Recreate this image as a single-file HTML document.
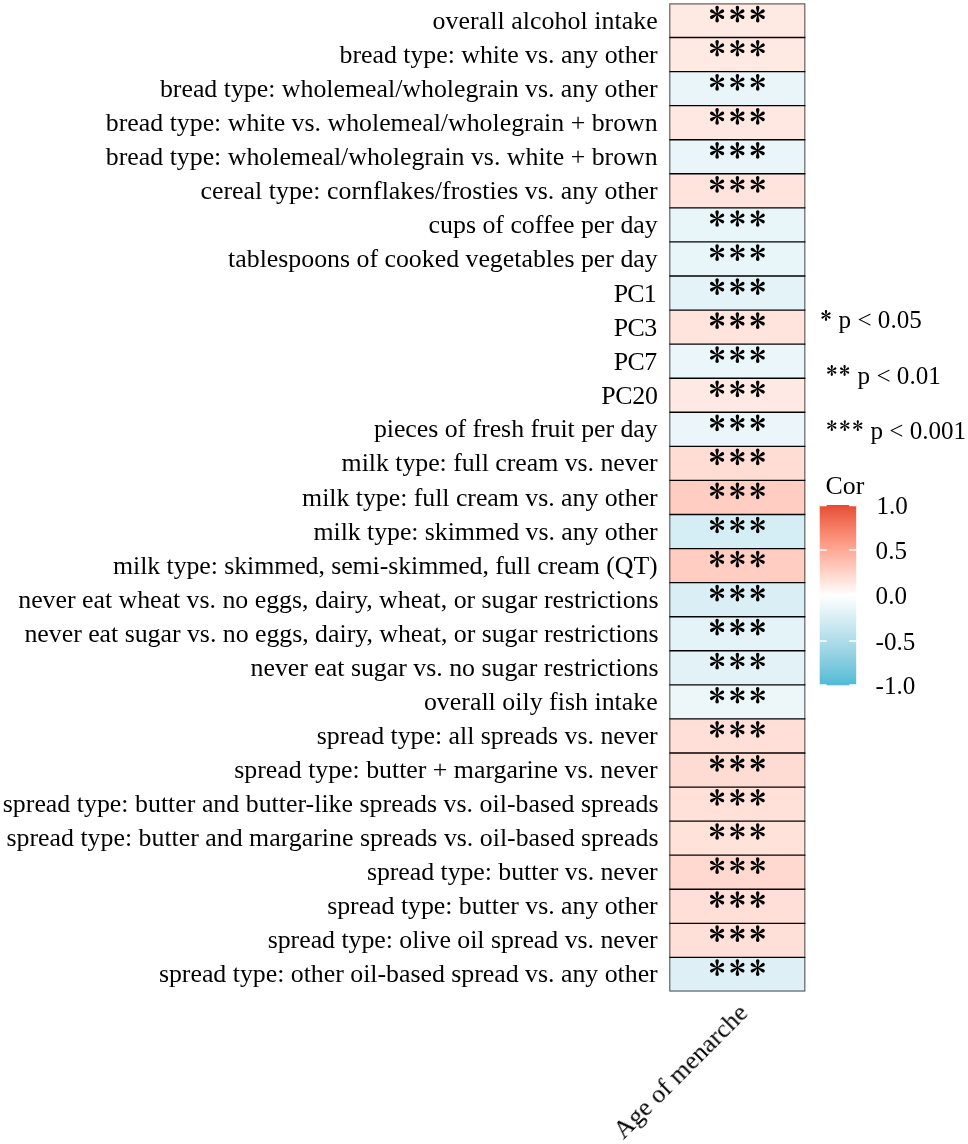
<!DOCTYPE html>
<html><head><meta charset="utf-8"><title>heatmap</title>
<style>
html,body{margin:0;padding:0;background:#fff;overflow:hidden;}
svg{display:block;}
text{font-family:"Liberation Serif",serif;fill:#000;}
.lab{font-size:25.85px;text-anchor:end;}
.st{font-size:40.5px;text-anchor:middle;}
.lg{font-size:25.1px;}
.ti{font-size:25.8px;}
</style></head><body>
<svg width="968" height="1144" viewBox="0 0 968 1144">
<rect width="968" height="1144" fill="#fff"/>
<g style="opacity:0.9999">
<defs><path id="pt" d="M-0.5,0.3 C-0.55,-2.6 -1.75,-5.0 -1.75,-6.6 A1.75,1.75 0 0 1 1.75,-6.6 C1.75,-5.0 0.55,-2.6 0.5,0.3Z"/>
<g id="ast"><use href="#pt"/><use href="#pt" transform="rotate(60) scale(0.95)"/><use href="#pt" transform="rotate(120) scale(0.95)"/><use href="#pt" transform="rotate(180)"/><use href="#pt" transform="rotate(240) scale(0.95)"/><use href="#pt" transform="rotate(300) scale(0.95)"/></g></defs>

<rect x="669.80" y="3.44" width="135.20" height="34.07" fill="#ffe9e3"/>
<rect x="669.80" y="37.51" width="135.20" height="34.07" fill="#ffe9e3"/>
<rect x="669.80" y="71.58" width="135.20" height="34.07" fill="#e9f5f9"/>
<rect x="669.80" y="105.65" width="135.20" height="34.07" fill="#ffe8e2"/>
<rect x="669.80" y="139.72" width="135.20" height="34.07" fill="#e9f5f9"/>
<rect x="669.80" y="173.79" width="135.20" height="34.07" fill="#ffe4dd"/>
<rect x="669.80" y="207.86" width="135.20" height="34.07" fill="#e8f5f9"/>
<rect x="669.80" y="241.93" width="135.20" height="34.07" fill="#e8f5f9"/>
<rect x="669.80" y="276.00" width="135.20" height="34.07" fill="#e3f3f7"/>
<rect x="669.80" y="310.07" width="135.20" height="34.07" fill="#ffe4dd"/>
<rect x="669.80" y="344.14" width="135.20" height="34.07" fill="#eaf6f9"/>
<rect x="669.80" y="378.21" width="135.20" height="34.07" fill="#ffe9e4"/>
<rect x="669.80" y="412.28" width="135.20" height="34.07" fill="#ecf6fa"/>
<rect x="669.80" y="446.35" width="135.20" height="34.07" fill="#ffddd5"/>
<rect x="669.80" y="480.42" width="135.20" height="34.07" fill="#ffcdc1"/>
<rect x="669.80" y="514.49" width="135.20" height="34.07" fill="#d5edf4"/>
<rect x="669.80" y="548.56" width="135.20" height="34.07" fill="#ffcdc1"/>
<rect x="669.80" y="582.63" width="135.20" height="34.07" fill="#d9eef5"/>
<rect x="669.80" y="616.70" width="135.20" height="34.07" fill="#e3f3f7"/>
<rect x="669.80" y="650.77" width="135.20" height="34.07" fill="#e2f2f7"/>
<rect x="669.80" y="684.84" width="135.20" height="34.07" fill="#edf7fa"/>
<rect x="669.80" y="718.91" width="135.20" height="34.07" fill="#ffdfd7"/>
<rect x="669.80" y="752.98" width="135.20" height="34.07" fill="#ffdcd3"/>
<rect x="669.80" y="787.05" width="135.20" height="34.07" fill="#ffe1d9"/>
<rect x="669.80" y="821.12" width="135.20" height="34.07" fill="#ffe2da"/>
<rect x="669.80" y="855.19" width="135.20" height="34.07" fill="#ffd9cf"/>
<rect x="669.80" y="889.26" width="135.20" height="34.07" fill="#ffdfd7"/>
<rect x="669.80" y="923.33" width="135.20" height="34.07" fill="#ffe0d8"/>
<rect x="669.80" y="957.40" width="135.20" height="34.07" fill="#def0f6"/>
<path d="M669.40 37.51H805.40" stroke="#000" stroke-width="1.35"/>
<path d="M669.40 71.58H805.40" stroke="#000" stroke-width="1.35"/>
<path d="M669.40 105.65H805.40" stroke="#000" stroke-width="1.35"/>
<path d="M669.40 139.72H805.40" stroke="#000" stroke-width="1.35"/>
<path d="M669.40 173.79H805.40" stroke="#000" stroke-width="1.35"/>
<path d="M669.40 207.86H805.40" stroke="#000" stroke-width="1.35"/>
<path d="M669.40 241.93H805.40" stroke="#000" stroke-width="1.35"/>
<path d="M669.40 276.00H805.40" stroke="#000" stroke-width="1.35"/>
<path d="M669.40 310.07H805.40" stroke="#000" stroke-width="1.35"/>
<path d="M669.40 344.14H805.40" stroke="#000" stroke-width="1.35"/>
<path d="M669.40 378.21H805.40" stroke="#000" stroke-width="1.35"/>
<path d="M669.40 412.28H805.40" stroke="#000" stroke-width="1.35"/>
<path d="M669.40 446.35H805.40" stroke="#000" stroke-width="1.35"/>
<path d="M669.40 480.42H805.40" stroke="#000" stroke-width="1.35"/>
<path d="M669.40 514.49H805.40" stroke="#000" stroke-width="1.35"/>
<path d="M669.40 548.56H805.40" stroke="#000" stroke-width="1.35"/>
<path d="M669.40 582.63H805.40" stroke="#000" stroke-width="1.35"/>
<path d="M669.40 616.70H805.40" stroke="#000" stroke-width="1.35"/>
<path d="M669.40 650.77H805.40" stroke="#000" stroke-width="1.35"/>
<path d="M669.40 684.84H805.40" stroke="#000" stroke-width="1.35"/>
<path d="M669.40 718.91H805.40" stroke="#000" stroke-width="1.35"/>
<path d="M669.40 752.98H805.40" stroke="#000" stroke-width="1.35"/>
<path d="M669.40 787.05H805.40" stroke="#000" stroke-width="1.35"/>
<path d="M669.40 821.12H805.40" stroke="#000" stroke-width="1.35"/>
<path d="M669.40 855.19H805.40" stroke="#000" stroke-width="1.35"/>
<path d="M669.40 889.26H805.40" stroke="#000" stroke-width="1.35"/>
<path d="M669.40 923.33H805.40" stroke="#000" stroke-width="1.35"/>
<path d="M669.40 957.40H805.40" stroke="#000" stroke-width="1.35"/>
<rect x="669.80" y="3.89" width="135.05" height="987.13" fill="none" stroke="#000" stroke-opacity="0.66" stroke-width="1.1"/>
<text class="lab" x="657.70" y="28.77" textLength="225.1">overall alcohol intake</text>
<use href="#ast" x="717.1" y="14.17"/>
<use href="#ast" x="737.4" y="14.17"/>
<use href="#ast" x="757.7" y="14.17"/>
<text class="lab" x="657.70" y="62.82" textLength="318.2">bread type: white vs. any other</text>
<use href="#ast" x="717.1" y="48.23"/>
<use href="#ast" x="737.4" y="48.23"/>
<use href="#ast" x="757.7" y="48.23"/>
<text class="lab" x="657.70" y="96.87" textLength="497.8">bread type: wholemeal/wholegrain vs. any other</text>
<use href="#ast" x="717.1" y="82.28"/>
<use href="#ast" x="737.4" y="82.28"/>
<use href="#ast" x="757.7" y="82.28"/>
<text class="lab" x="657.70" y="130.93" textLength="551.9">bread type: white vs. wholemeal/wholegrain + brown</text>
<use href="#ast" x="717.1" y="116.33"/>
<use href="#ast" x="737.4" y="116.33"/>
<use href="#ast" x="757.7" y="116.33"/>
<text class="lab" x="657.70" y="164.98" textLength="551.9">bread type: wholemeal/wholegrain vs. white + brown</text>
<use href="#ast" x="717.1" y="150.39"/>
<use href="#ast" x="737.4" y="150.39"/>
<use href="#ast" x="757.7" y="150.39"/>
<text class="lab" x="657.70" y="199.03" textLength="457.2">cereal type: cornflakes/frosties vs. any other</text>
<use href="#ast" x="717.1" y="184.44"/>
<use href="#ast" x="737.4" y="184.44"/>
<use href="#ast" x="757.7" y="184.44"/>
<text class="lab" x="657.70" y="233.08" textLength="229.1">cups of coffee per day</text>
<use href="#ast" x="717.1" y="218.50"/>
<use href="#ast" x="737.4" y="218.50"/>
<use href="#ast" x="757.7" y="218.50"/>
<text class="lab" x="657.70" y="267.13" textLength="429.6">tablespoons of cooked vegetables per day</text>
<use href="#ast" x="717.1" y="252.55"/>
<use href="#ast" x="737.4" y="252.55"/>
<use href="#ast" x="757.7" y="252.55"/>
<text class="lab" x="655.75" y="301.99" style="letter-spacing:-0.85px">PC1</text>
<use href="#ast" x="717.1" y="286.61"/>
<use href="#ast" x="737.4" y="286.61"/>
<use href="#ast" x="757.7" y="286.61"/>
<text class="lab" x="656.54" y="336.04" style="letter-spacing:-0.56px">PC3</text>
<use href="#ast" x="717.1" y="320.67"/>
<use href="#ast" x="737.4" y="320.67"/>
<use href="#ast" x="757.7" y="320.67"/>
<text class="lab" x="656.54" y="370.09" style="letter-spacing:-0.56px">PC7</text>
<use href="#ast" x="717.1" y="354.72"/>
<use href="#ast" x="737.4" y="354.72"/>
<use href="#ast" x="757.7" y="354.72"/>
<text class="lab" x="657.63" y="404.14" style="letter-spacing:-0.25px">PC20</text>
<use href="#ast" x="717.1" y="388.78"/>
<use href="#ast" x="737.4" y="388.78"/>
<use href="#ast" x="757.7" y="388.78"/>
<text class="lab" x="657.70" y="437.39" textLength="283.8">pieces of fresh fruit per day</text>
<use href="#ast" x="717.1" y="422.83"/>
<use href="#ast" x="737.4" y="422.83"/>
<use href="#ast" x="757.7" y="422.83"/>
<text class="lab" x="657.70" y="471.45" textLength="316.1">milk type: full cream vs. never</text>
<use href="#ast" x="717.1" y="456.88"/>
<use href="#ast" x="737.4" y="456.88"/>
<use href="#ast" x="757.7" y="456.88"/>
<text class="lab" x="657.70" y="505.50" textLength="355.6">milk type: full cream vs. any other</text>
<use href="#ast" x="717.1" y="490.94"/>
<use href="#ast" x="737.4" y="490.94"/>
<use href="#ast" x="757.7" y="490.94"/>
<text class="lab" x="657.70" y="539.55" textLength="344.2">milk type: skimmed vs. any other</text>
<use href="#ast" x="717.1" y="525.00"/>
<use href="#ast" x="737.4" y="525.00"/>
<use href="#ast" x="757.7" y="525.00"/>
<text class="lab" x="657.70" y="574.30" textLength="544.6">milk type: skimmed, semi-skimmed, full cream (QT)</text>
<use href="#ast" x="717.1" y="559.05"/>
<use href="#ast" x="737.4" y="559.05"/>
<use href="#ast" x="757.7" y="559.05"/>
<text class="lab" x="658.55" y="607.65" textLength="640.3">never eat wheat vs. no eggs, dairy, wheat, or sugar restrictions</text>
<use href="#ast" x="717.1" y="593.10"/>
<use href="#ast" x="737.4" y="593.10"/>
<use href="#ast" x="757.7" y="593.10"/>
<text class="lab" x="658.55" y="641.71" textLength="634.1">never eat sugar vs. no eggs, dairy, wheat, or sugar restrictions</text>
<use href="#ast" x="717.1" y="627.16"/>
<use href="#ast" x="737.4" y="627.16"/>
<use href="#ast" x="757.7" y="627.16"/>
<text class="lab" x="658.55" y="675.76" textLength="408.0">never eat sugar vs. no sugar restrictions</text>
<use href="#ast" x="717.1" y="661.21"/>
<use href="#ast" x="737.4" y="661.21"/>
<use href="#ast" x="757.7" y="661.21"/>
<text class="lab" x="657.70" y="709.81" textLength="233.8">overall oily fish intake</text>
<use href="#ast" x="717.1" y="695.27"/>
<use href="#ast" x="737.4" y="695.27"/>
<use href="#ast" x="757.7" y="695.27"/>
<text class="lab" x="657.70" y="743.86" textLength="340.9">spread type: all spreads vs. never</text>
<use href="#ast" x="717.1" y="729.32"/>
<use href="#ast" x="737.4" y="729.32"/>
<use href="#ast" x="757.7" y="729.32"/>
<text class="lab" x="657.70" y="777.91" textLength="423.4">spread type: butter + margarine vs. never</text>
<use href="#ast" x="717.1" y="763.38"/>
<use href="#ast" x="737.4" y="763.38"/>
<use href="#ast" x="757.7" y="763.38"/>
<text class="lab" x="658.55" y="811.97" textLength="655.8">spread type: butter and butter-like spreads vs. oil-based spreads</text>
<use href="#ast" x="717.1" y="797.43"/>
<use href="#ast" x="737.4" y="797.43"/>
<use href="#ast" x="757.7" y="797.43"/>
<text class="lab" x="658.55" y="846.02" textLength="652.1">spread type: butter and margarine spreads vs. oil-based spreads</text>
<use href="#ast" x="717.1" y="831.49"/>
<use href="#ast" x="737.4" y="831.49"/>
<use href="#ast" x="757.7" y="831.49"/>
<text class="lab" x="657.70" y="880.07" textLength="290.8">spread type: butter vs. never</text>
<use href="#ast" x="717.1" y="865.54"/>
<use href="#ast" x="737.4" y="865.54"/>
<use href="#ast" x="757.7" y="865.54"/>
<text class="lab" x="657.70" y="914.12" textLength="330.5">spread type: butter vs. any other</text>
<use href="#ast" x="717.1" y="899.60"/>
<use href="#ast" x="737.4" y="899.60"/>
<use href="#ast" x="757.7" y="899.60"/>
<text class="lab" x="657.70" y="948.17" textLength="390.0">spread type: olive oil spread vs. never</text>
<use href="#ast" x="717.1" y="933.65"/>
<use href="#ast" x="737.4" y="933.65"/>
<use href="#ast" x="757.7" y="933.65"/>
<text class="lab" x="657.70" y="982.23" textLength="498.8">spread type: other oil-based spread vs. any other</text>
<use href="#ast" x="717.1" y="967.71"/>
<use href="#ast" x="737.4" y="967.71"/>
<use href="#ast" x="757.7" y="967.71"/>
<text class="lg" x="838.6" y="328.4">p &lt; 0.05</text>
<text class="lg" x="857.6" y="383.6">p &lt; 0.01</text>
<text class="lg" x="870.4" y="438.7">p &lt; 0.001</text>
<use href="#ast" transform="translate(826.0,315.5) scale(0.65)"/>
<use href="#ast" transform="translate(831.8,370.5) scale(0.65)"/><use href="#ast" transform="translate(844.6,370.5) scale(0.65)"/>
<use href="#ast" transform="translate(831.8,425.6) scale(0.65)"/><use href="#ast" transform="translate(844.8,425.6) scale(0.65)"/><use href="#ast" transform="translate(857.8,425.6) scale(0.65)"/>
<text class="ti" x="825.6" y="493.8">Cor</text>
<defs><linearGradient id="g" x1="0" y1="0" x2="0" y2="1">
<stop offset="0.000" stop-color="#e64b35"/><stop offset="0.025" stop-color="#e9563e"/><stop offset="0.050" stop-color="#ec6048"/><stop offset="0.075" stop-color="#ef6a51"/><stop offset="0.100" stop-color="#f2735b"/><stop offset="0.125" stop-color="#f57c64"/><stop offset="0.150" stop-color="#f7866e"/><stop offset="0.175" stop-color="#f98e78"/><stop offset="0.200" stop-color="#fb9781"/><stop offset="0.225" stop-color="#fda08b"/><stop offset="0.250" stop-color="#ffa995"/><stop offset="0.275" stop-color="#ffb1a0"/><stop offset="0.300" stop-color="#ffbaaa"/><stop offset="0.325" stop-color="#ffc3b4"/><stop offset="0.350" stop-color="#ffcbbf"/><stop offset="0.375" stop-color="#ffd4c9"/><stop offset="0.400" stop-color="#ffddd4"/><stop offset="0.425" stop-color="#ffe5de"/><stop offset="0.450" stop-color="#ffeee9"/><stop offset="0.475" stop-color="#fff6f4"/><stop offset="0.500" stop-color="#ffffff"/><stop offset="0.525" stop-color="#f7fcfd"/><stop offset="0.550" stop-color="#f0f8fb"/><stop offset="0.575" stop-color="#e8f5f9"/><stop offset="0.600" stop-color="#e0f1f7"/><stop offset="0.625" stop-color="#d8eef4"/><stop offset="0.650" stop-color="#d0ebf2"/><stop offset="0.675" stop-color="#c8e7f0"/><stop offset="0.700" stop-color="#c0e4ee"/><stop offset="0.725" stop-color="#b8e0ec"/><stop offset="0.750" stop-color="#b0ddea"/><stop offset="0.775" stop-color="#a7dae8"/><stop offset="0.800" stop-color="#9fd6e6"/><stop offset="0.825" stop-color="#96d3e4"/><stop offset="0.850" stop-color="#8dcfe2"/><stop offset="0.875" stop-color="#84ccdf"/><stop offset="0.900" stop-color="#7ac9dd"/><stop offset="0.925" stop-color="#70c5db"/><stop offset="0.950" stop-color="#65c2d9"/><stop offset="0.975" stop-color="#5abed7"/><stop offset="1.000" stop-color="#4dbbd5"/>
</linearGradient></defs>
<rect x="819.7" y="505.0" width="36.5" height="180.3" fill="url(#g)"/>
<g stroke="#fff" stroke-width="1.5">
<path d="M819.7 505.4h7M849.2 505.4h7M819.7 549.9h7M849.2 549.9h7M819.7 640.9h7M849.2 640.9h7M819.7 684.9h7M849.2 684.9h7"/>
</g>
<text class="lg" x="876.5" y="513.5">1.0</text>
<text class="lg" x="875.6" y="559.2">0.5</text>
<text class="lg" x="875.6" y="604.2">0.0</text>
<text class="lg" x="875.6" y="649.7">-0.5</text>
<text class="lg" x="875.6" y="694.4">-1.0</text>
<text class="ti" transform="translate(623.5,1140) rotate(-45)" x="0" y="0">Age of menarche</text>

</g></svg></body></html>
